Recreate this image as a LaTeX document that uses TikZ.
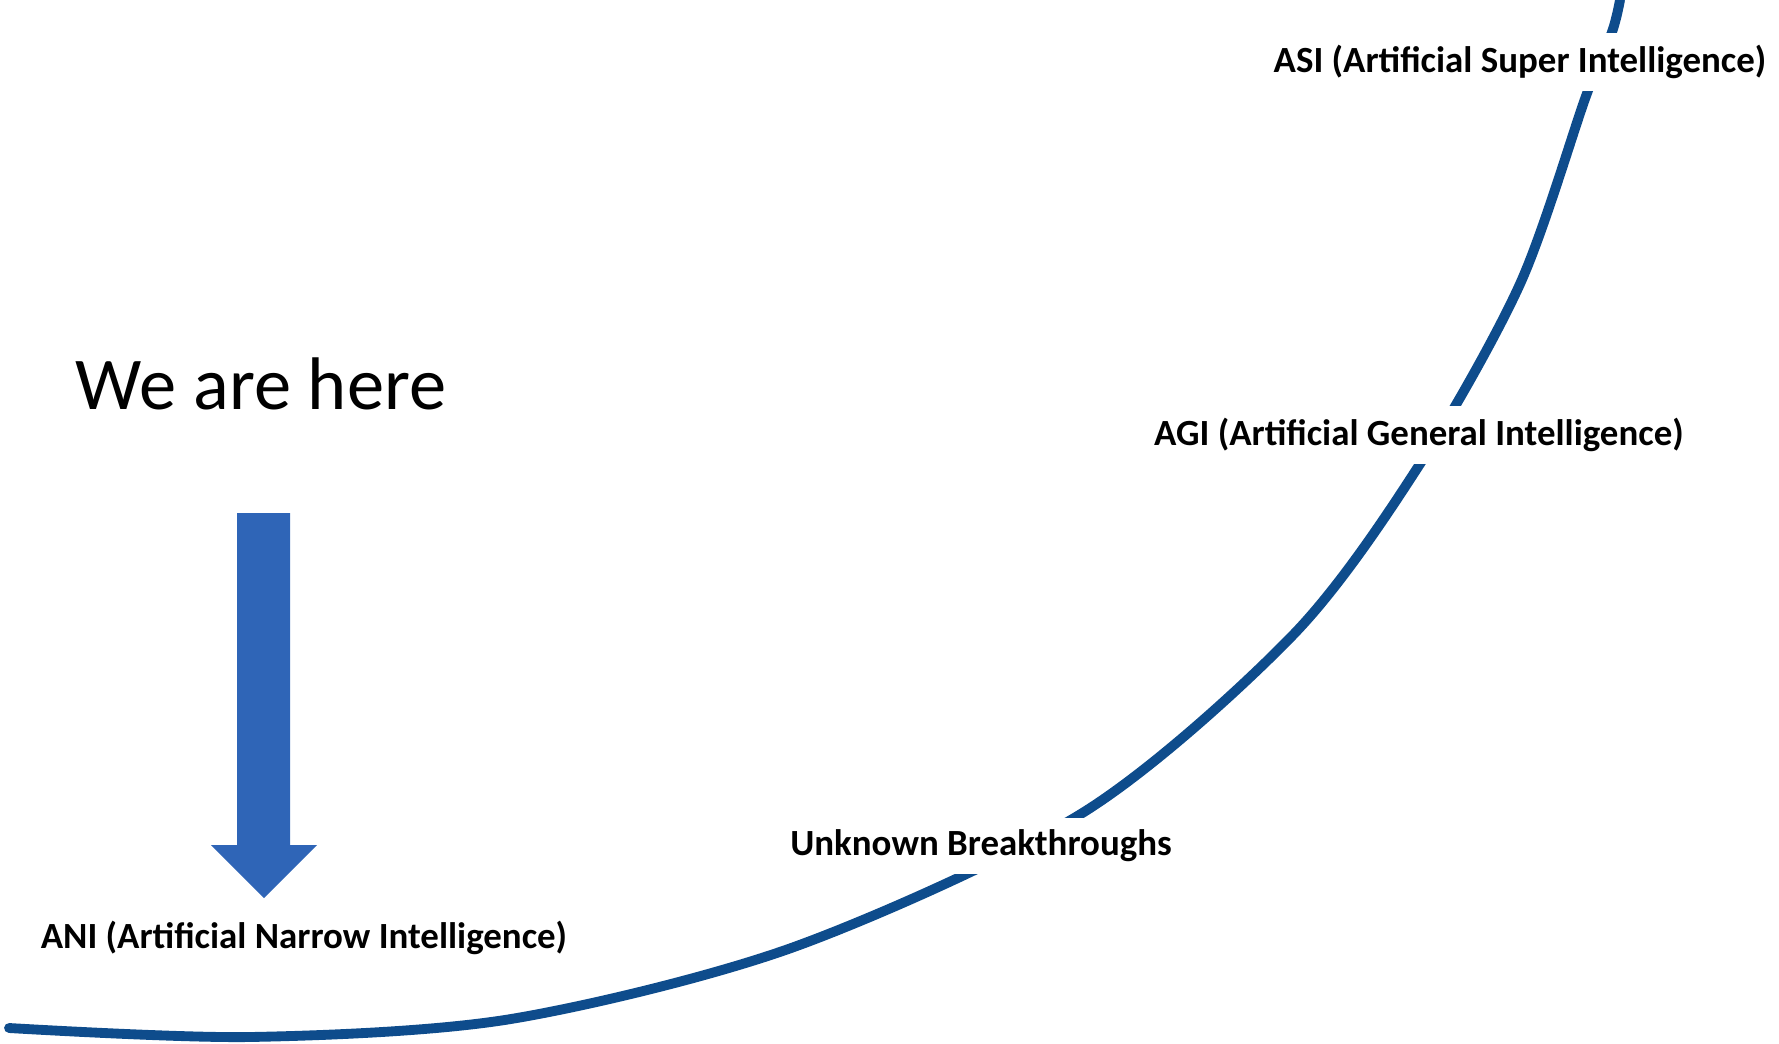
\documentclass[tikz,border=0pt]{standalone}
\usepackage{fontspec}
\setmainfont{Carlito}
\definecolor{curveblue}{RGB}{14,76,140}
\definecolor{arrowblue}{RGB}{47,101,183}
\tikzset{
  stage/.style={fill=white, inner xsep=2pt, inner ysep=3.4pt, font=\bfseries\fontsize{10.5}{12}\selectfont},
  growth/.style={curveblue, line width=2.8pt, line cap=round}
}
\begin{document}
\begin{tikzpicture}[x=0.1mm, y=-0.1mm]
        \useasboundingbox (0,0) rectangle (1779,1044);

        % the growth curve
        \draw[growth] plot[smooth, tension=0.5] coordinates {
          (9,1028) (250,1037) (511,1019) (794,947) (1084,812) (1293,635)
          (1418,467) (1520,284) (1586,96) (1612,32) (1620,0)};

        % stages on the curve
        \node[stage] (asi) at (1520,62) {ASI (Artificial Super Intelligence)};
        \node[stage] (agi) at (1419,435) {AGI (Artificial General Intelligence)};
        \node[stage] (unknown) at (981,846) {Unknown Breakthroughs};
        \node[stage] (ani) at (304,938) {ANI (Artificial Narrow Intelligence)};

        \node[font=\fontsize{21.2}{25}\selectfont] (here) at (261,384) {We are here};

        % big arrow
        \fill[arrowblue] (237,513) -- (290,513) -- (290,845) -- (317,845)
          -- (264,898) -- (211,845) -- (237,845) -- cycle;
    \end{tikzpicture}
\end{document}
